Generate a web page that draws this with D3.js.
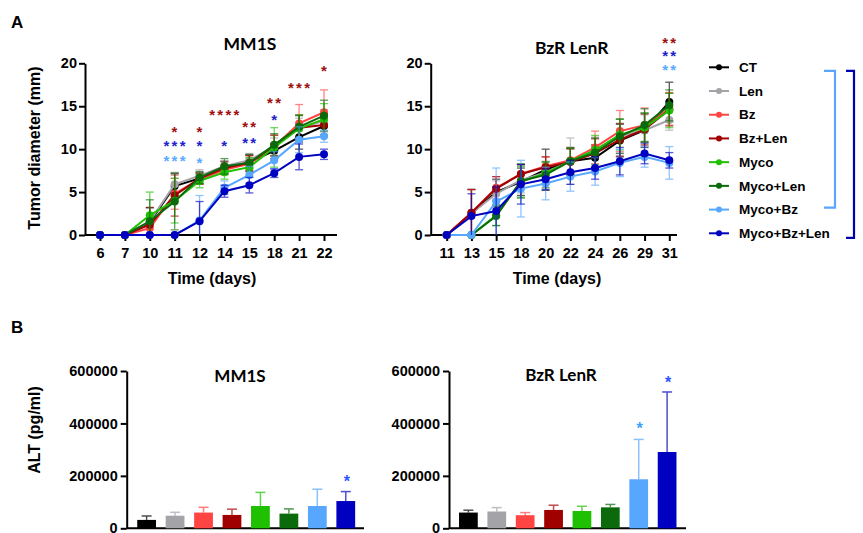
<!DOCTYPE html>
<html>
<head>
<meta charset="utf-8">
<script src="https://cdn.jsdelivr.net/npm/d3@7"></script>
<style>
  body { margin: 0; background: #fff; }
  text { font-family: "Liberation Sans", Arial, sans-serif; font-weight: bold; }
  .title { font-family: Lato, "Liberation Sans", sans-serif; }
</style>
</head>
<body>
<div id="app"></div>
<script>
const groups = ['CT', 'Len', 'Bz', 'Bz+Len', 'Myco', 'Myco+Len', 'Myco+Bz', 'Myco+Bz+Len'];
const colors = ['#000000', '#a3a3a8', '#ff4444', '#a00000', '#1ec000', '#0b6a0b', '#57a7ff', '#0000c0'];

// panel A, MM1S, tumor diameter (mm), one row per group
const mm1sDays = [6, 7, 10, 11, 12, 14, 15, 18, 21, 22];
const mm1sMean = [
  [0, 0, 1.5, 5.7, 6.6, 7.9, 8.5, 9.8, 11.4, 12.7],
  [0, 0, 1.6, 5.9, 6.9, 8.0, 8.7, 10.3, 12.4, 13.3],
  [0, 0, 0.8, 4.8, 6.5, 7.6, 8.3, 10.3, 13.0, 14.3],
  [0, 0, 1.2, 4.6, 6.6, 7.8, 8.4, 10.4, 12.5, 12.8],
  [0, 0, 2.3, 4.0, 6.3, 7.3, 7.9, 10.2, 12.4, 13.5],
  [0, 0, 1.6, 3.9, 6.7, 8.0, 8.4, 10.5, 12.6, 13.9],
  [0, 0, 0, 0, 1.7, 5.5, 7.0, 8.7, 11.1, 11.5],
  [0, 0, 0, 0, 1.6, 5.1, 5.8, 7.2, 9.1, 9.4]
];
const mm1sSem = [
  [0, 0, 1.7, 1.5, 0.7, 0.7, 0.8, 0.9, 1.4, 1.2],
  [0, 0, 1.5, 1.4, 0.7, 0.6, 0.8, 1.0, 1.2, 1.3],
  [0, 0, 1.2, 1.8, 0.6, 0.6, 0.9, 1.4, 2.2, 2.6],
  [0, 0, 2.0, 2.4, 0.6, 0.7, 0.9, 1.2, 1.5, 1.3],
  [0, 0, 2.7, 2.6, 0.8, 0.8, 1.1, 2.3, 1.6, 1.8],
  [0, 0, 2.5, 3.3, 0.7, 0.9, 1.0, 1.3, 1.3, 1.8],
  [0, 0, 0, 0, 2.9, 0.8, 1.0, 1.0, 1.5, 0.7],
  [0, 0, 0, 0, 2.3, 0.7, 0.9, 0.5, 1.5, 0.6]
];
// [day, stars, group, height in mm]
const mm1sStars = [
  [11, '*', 'Bz+Len', 12.4], [11, '***', 'Myco+Bz+Len', 10.7], [11, '***', 'Myco+Bz', 9.0],
  [12, '*', 'Bz+Len', 12.4], [12, '*', 'Myco+Bz+Len', 10.7], [12, '*', 'Myco+Bz', 8.8],
  [14, '****', 'Bz+Len', 14.3], [14, '*', 'Myco+Bz+Len', 10.7],
  [15, '**', 'Bz+Len', 13.0], [15, '**', 'Myco+Bz+Len', 11.1],
  [18, '**', 'Bz+Len', 15.8], [18, '*', 'Myco+Bz+Len', 13.8],
  [21, '***', 'Bz+Len', 17.5],
  [22, '*', 'Bz+Len', 19.5]
];

// panel A, BzR LenR
const bzrDays = [11, 13, 15, 18, 20, 22, 24, 26, 29, 31];
const bzrMean = [
  [0, 2.5, 5.0, 6.2, 7.6, 8.6, 9.0, 11.0, 12.2, 15.5],
  [0, 2.5, 4.8, 6.4, 7.3, 8.6, 9.6, 11.5, 12.2, 13.4],
  [0, 2.6, 5.5, 7.1, 8.0, 8.7, 10.2, 12.1, 12.8, 14.7],
  [0, 2.6, 5.4, 7.1, 7.9, 8.5, 9.5, 11.1, 12.3, 14.6],
  [0, 0, 2.3, 6.2, 7.2, 8.6, 9.9, 11.7, 12.5, 14.5],
  [0, 0, 2.2, 6.3, 7.0, 8.6, 9.6, 11.5, 12.8, 15.1],
  [0, 0, 3.9, 5.4, 6.0, 6.8, 7.4, 8.4, 9.1, 8.4],
  [0, 2.2, 2.8, 5.9, 6.5, 7.3, 7.8, 8.6, 9.5, 8.7]
];
const bzrSem = [
  [0, 2.8, 1.5, 1.6, 2.4, 1.6, 1.5, 1.9, 2.0, 2.3],
  [0, 2.8, 1.5, 1.5, 1.3, 2.7, 1.8, 2.0, 1.8, 1.2],
  [0, 2.7, 1.3, 1.1, 1.1, 1.4, 1.9, 2.4, 2.0, 1.9],
  [0, 2.7, 1.4, 1.1, 1.2, 1.5, 1.7, 1.9, 1.8, 1.9],
  [0, 0, 1.2, 1.8, 1.3, 1.5, 1.7, 1.8, 1.7, 2.0],
  [0, 0, 1.1, 2.0, 1.5, 1.5, 1.7, 2.0, 1.9, 1.8],
  [0, 0, 3.9, 3.3, 1.9, 1.7, 1.6, 1.6, 1.2, 1.9],
  [0, 2.6, 2.8, 2.3, 1.2, 1.4, 1.3, 1.6, 1.2, 0.9]
];
const bzrStars = [
  [31, '**', 'Bz+Len', 22.7], [31, '**', 'Myco+Bz+Len', 21.2], [31, '**', 'Myco+Bz', 19.6]
];

// panel B, ALT (pg/ml), mean and upper error
const altMm1s = [32000, 48000, 60000, 51000, 85000, 56000, 85000, 104000];
const altMm1sErr = [15000, 13000, 20000, 22000, 52000, 18000, 64000, 36000];
const altMm1sStars = [['Myco+Bz+Len', '*', 193000]];
const altBzr = [60000, 64000, 50000, 70000, 66000, 80000, 187000, 291000];
const altBzrErr = [9000, 15000, 10000, 18000, 18000, 11000, 152000, 229000];
const altBzrStars = [['Myco+Bz', '*', 394000], ['Myco+Bz+Len', '*', 568000]];

const tumorTicks = [0, 5, 10, 15, 20];
const altTicks = [0, 200000, 400000, 600000];

const width = 863;
const height = 533;
const svg = d3.select('#app').append('svg')
  .attr('width', width)
  .attr('height', height);

const color = d3.scaleOrdinal(groups, colors);
const starColor = {'Bz+Len': '#a01010', 'Myco+Bz+Len': '#1f1fcc', 'Myco+Bz': '#5aaaff'};

svg.append('text').attr('x', 11).attr('y', 28).style('font-size', '17px').text('A');
svg.append('text').attr('x', 11).attr('y', 333).style('font-size', '17px').text('B');

function styleAxis(sel) {
  sel.selectAll('path, line').attr('stroke', '#000').attr('stroke-width', 2);
  sel.selectAll('text').style('font-size', '14.5px').attr('fill', '#000');
}

function lineChart(o) {
  const g = svg.append('g');
  const x = d3.scalePoint(o.days, [o.p0, o.p1]);
  const y = d3.scaleLinear([0, 20], [o.bottom, o.top]);

  g.append('g')
    .attr('transform', `translate(${o.left},0)`)
    .call(d3.axisLeft(y).tickValues(tumorTicks).tickSize(6).tickPadding(2).tickSizeOuter(0))
    .call(styleAxis);
  const xa = g.append('g')
    .attr('transform', `translate(0,${o.bottom})`)
    .call(d3.axisBottom(x).tickSize(6).tickPadding(7).tickSizeOuter(0))
    .call(styleAxis);
  xa.select('.domain').remove();
  g.append('line')
    .attr('x1', o.left).attr('x2', o.right)
    .attr('y1', o.bottom).attr('y2', o.bottom)
    .attr('stroke', '#000').attr('stroke-width', 2);

  groups.forEach((name, i) => {
    const pts = o.days.map((d, j) => ({day: d, v: o.mean[i][j], e: o.sem[i][j]}));
    const c = color(name);
    const gg = g.append('g');
    const eb = gg.selectAll('g.eb').data(pts.filter(p => p.e > 0)).join('g')
      .attr('stroke', c).attr('stroke-width', 1.3).attr('opacity', 0.65);
    eb.append('line')
      .attr('x1', p => x(p.day)).attr('x2', p => x(p.day))
      .attr('y1', p => y(Math.max(0, p.v - p.e))).attr('y2', p => y(p.v + p.e));
    [1, -1].forEach(s => {
      eb.filter(p => s > 0 || p.v - p.e > 0).append('line')
        .attr('x1', p => x(p.day) - 4).attr('x2', p => x(p.day) + 4)
        .attr('y1', p => y(p.v + s * p.e)).attr('y2', p => y(p.v + s * p.e));
    });
    gg.append('path')
      .datum(pts)
      .attr('fill', 'none').attr('stroke', c).attr('stroke-width', 2)
      .attr('d', d3.line().x(p => x(p.day)).y(p => y(p.v)));
    gg.selectAll('circle').data(pts).join('circle')
      .attr('cx', p => x(p.day)).attr('cy', p => y(p.v)).attr('r', 4)
      .attr('fill', c);
  });

  g.selectAll('text.star').data(o.stars).join('text')
    .attr('class', 'star')
    .attr('x', s => x(s[0]) + 1).attr('y', s => y(s[3]))
    .attr('dy', '0.55em')
    .attr('text-anchor', 'middle')
    .attr('fill', s => starColor[s[2]])
    .style('font-size', '15px').style('letter-spacing', '2.3px')
    .text(s => s[1]);

  g.append('text').attr('class', 'title')
    .attr('x', o.titleX).attr('y', o.titleY + 6)
    .attr('text-anchor', 'middle').style('font-size', '17.5px')
    .text(o.title);
  g.append('text')
    .attr('x', o.xTitleX).attr('y', 284)
    .attr('text-anchor', 'middle').style('font-size', '16px')
    .text('Time (days)');
  if (o.yTitle) {
    g.append('text')
      .attr('transform', `translate(40,148) rotate(-90)`)
      .attr('text-anchor', 'middle').style('font-size', '16px')
      .text(o.yTitle);
  }
}

function barChart(o) {
  const g = svg.append('g');
  const x = d3.scaleBand(groups, o.band).paddingInner(0.34).paddingOuter(0.17);
  const y = d3.scaleLinear([0, 600000], [o.bottom, o.top]);

  g.append('g')
    .attr('transform', `translate(${o.left},0)`)
    .call(d3.axisLeft(y).tickValues(altTicks).tickFormat(d3.format('d'))
      .tickSize(6).tickPadding(3).tickSizeOuter(0))
    .call(styleAxis);
  g.append('line')
    .attr('x1', o.left).attr('x2', o.right)
    .attr('y1', o.bottom).attr('y2', o.bottom)
    .attr('stroke', '#000').attr('stroke-width', 2);

  const rows = groups.map((name, i) => ({name, v: o.mean[i], e: o.err[i]}));
  const eb = g.selectAll('g.eb').data(rows).join('g')
    .attr('stroke', r => d3.interpolateRgb(color(r.name), '#fff')(0.3))
    .attr('stroke-width', 1.5);
  eb.append('line')
    .attr('x1', r => x(r.name) + x.bandwidth() / 2).attr('x2', r => x(r.name) + x.bandwidth() / 2)
    .attr('y1', r => y(r.v)).attr('y2', r => y(r.v + r.e));
  eb.append('line')
    .attr('x1', r => x(r.name) + x.bandwidth() / 2 - 5).attr('x2', r => x(r.name) + x.bandwidth() / 2 + 5)
    .attr('y1', r => y(r.v + r.e)).attr('y2', r => y(r.v + r.e));
  g.selectAll('rect').data(rows).join('rect')
    .attr('x', r => x(r.name)).attr('width', x.bandwidth())
    .attr('y', r => y(r.v)).attr('height', r => y(0) - y(r.v))
    .attr('fill', r => color(r.name));

  g.selectAll('text.star').data(o.stars).join('text')
    .attr('class', 'star')
    .attr('x', s => x(s[0]) + x.bandwidth() / 2 + 1).attr('y', s => y(s[2]))
    .attr('dy', '0.55em')
    .attr('text-anchor', 'middle')
    .attr('fill', s => s[0] === 'Myco+Bz' ? '#3aa2ff' : '#2f55ff')
    .style('font-size', '16px')
    .text(s => s[1]);

  g.append('text').attr('class', 'title')
    .attr('x', o.titleX).attr('y', o.titleY + 6)
    .attr('text-anchor', 'middle').style('font-size', '17px')
    .text(o.title);
  if (o.yTitle) {
    g.append('text')
      .attr('transform', `translate(40,430) rotate(-90)`)
      .attr('text-anchor', 'middle').style('font-size', '16px')
      .text(o.yTitle);
  }
}

lineChart({
  title: 'MM1S', yTitle: 'Tumor diameter (mm)',
  days: mm1sDays, mean: mm1sMean, sem: mm1sSem, stars: mm1sStars,
  left: 85, right: 337, top: 63.3, bottom: 235, p0: 100, p1: 324,
  titleX: 250, titleY: 44, xTitleX: 212
});
lineChart({
  title: 'BzR LenR',
  days: bzrDays, mean: bzrMean, sem: bzrSem, stars: bzrStars,
  left: 430.7, right: 677, top: 63.3, bottom: 235, p0: 446.7, p1: 669.3,
  titleX: 571.7, titleY: 48, xTitleX: 557
});

barChart({
  title: 'MM1S', yTitle: 'ALT (pg/ml)',
  mean: altMm1s, err: altMm1sErr, stars: altMm1sStars,
  left: 126.7, right: 364, top: 371, bottom: 528.3, band: [132.4, 360],
  titleX: 240, titleY: 376
});
barChart({
  title: 'BzR LenR',
  mean: altBzr, err: altBzrErr, stars: altBzrStars,
  left: 449, right: 686, top: 371, bottom: 528.3, band: [454.2, 681.3],
  titleX: 561, titleY: 375
});

// legend with brackets
const legend = svg.append('g');
const ly = d3.scalePoint(groups, [67.3, 233.3]);
const item = legend.selectAll('g').data(groups).join('g')
  .attr('transform', d => `translate(709,${ly(d)})`);
item.append('line').attr('x2', 20).attr('stroke', d => color(d)).attr('stroke-width', 2);
item.append('circle').attr('cx', 10).attr('r', 3).attr('fill', d => color(d));
item.append('text').attr('x', 30).attr('dy', '0.35em').style('font-size', '13.5px').text(d => d);

legend.append('path')
  .attr('d', `M824,${ly('CT') + 3.5}H835V${ly('Myco+Bz') - 2}H824`)
  .attr('fill', 'none').attr('stroke', '#5aa5ff').attr('stroke-width', 2.2);
legend.append('path')
  .attr('d', `M846,${ly('CT') + 3.5}H854V${ly('Myco+Bz+Len') + 4.5}H846`)
  .attr('fill', 'none').attr('stroke', '#0000b0').attr('stroke-width', 2.2);
</script>
</body>
</html>
